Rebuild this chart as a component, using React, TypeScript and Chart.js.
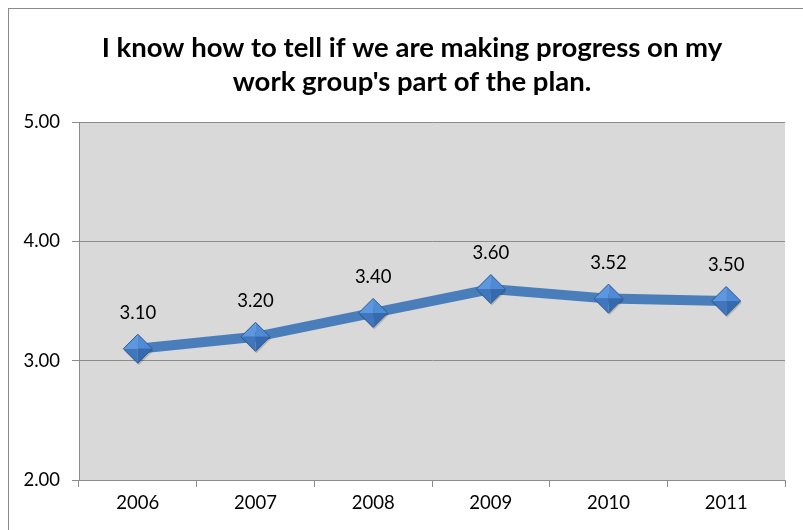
import React, { useEffect, useRef } from "react";
import { Chart, registerables } from "chart.js";

Chart.register(...registerables);

const categories = ["2006", "2007", "2008", "2009", "2010", "2011"];
const values = [3.1, 3.2, 3.4, 3.6, 3.52, 3.5];
const yTicks = [2, 3, 4, 5];
const titleLines = [
  "I know how to tell if we are making progress on my",
  "work group's part of the plan.",
];

const FONT = "Lato, 'Open Sans', sans-serif";

export default function App() {
  const ref = useRef<HTMLCanvasElement | null>(null);

  useEffect(() => {
    document.body.style.margin = "0";
    const canvas = ref.current;
    if (!canvas) return;

    const bgPlugin = {
      id: "bg",
      beforeDraw(chart: any) {
        const { ctx, chartArea } = chart;
        ctx.save();
        ctx.fillStyle = "#ffffff";
        ctx.fillRect(0, 0, chart.width, chart.height);
        ctx.fillStyle = "#d9d9d9";
        ctx.fillRect(chartArea.left, chartArea.top, chartArea.right - chartArea.left, chartArea.bottom - chartArea.top);
        // outer chart border
        ctx.strokeStyle = "#8a8a8a";
        ctx.lineWidth = 1;
        ctx.strokeRect(8.5, 8.5, chart.width + 20, chart.height + 20);
        // title
        ctx.fillStyle = "#000000";
        ctx.font = `bold 27.5px ${FONT}`;
        ctx.textAlign = "center";
        ctx.textBaseline = "middle";
        ctx.fillText(titleLines[0], 412, 48);
        ctx.fillText(titleLines[1], 412, 82);
        ctx.restore();
      },
    };

    const markerPlugin = {
      id: "markers",
      afterDatasetsDraw(chart: any) {
        const { ctx } = chart;
        const meta = chart.getDatasetMeta(0);
        const r = 14.5;
        ctx.save();
        meta.data.forEach((pt: any, i: number) => {
          const x = pt.x;
          const y = pt.y;
          // shadow
          ctx.fillStyle = "rgba(0,0,0,0.18)";
          ctx.beginPath();
          ctx.moveTo(x - r + 1, y + 2);
          ctx.lineTo(x + 1, y - r + 2);
          ctx.lineTo(x + r + 1, y + 2);
          ctx.lineTo(x + 1, y + r + 2);
          ctx.closePath();
          ctx.fill();
          const facets: [number, number, number, number, string][] = [
            [x - r, y, x, y - r, "#5b98df"],
            [x, y - r, x + r, y, "#4f8ad6"],
            [x + r, y, x, y + r, "#366aaf"],
            [x, y + r, x - r, y, "#3f76bd"],
          ];
          facets.forEach(([ax, ay, bx, by, col]) => {
            ctx.fillStyle = col;
            ctx.beginPath();
            ctx.moveTo(x, y);
            ctx.lineTo(ax, ay);
            ctx.lineTo(bx, by);
            ctx.closePath();
            ctx.fill();
          });
          ctx.strokeStyle = "#2d5a93";
          ctx.lineWidth = 1;
          ctx.beginPath();
          ctx.moveTo(x - r, y);
          ctx.lineTo(x, y - r);
          ctx.lineTo(x + r, y);
          ctx.lineTo(x, y + r);
          ctx.closePath();
          ctx.stroke();
          // label
          ctx.fillStyle = "#000000";
          ctx.font = `18.5px ${FONT}`;
          ctx.textAlign = "center";
          ctx.textBaseline = "middle";
          ctx.fillText(values[i].toFixed(2), x, y - 36);
        });
        ctx.restore();
      },
    };

    const chart = new Chart(canvas, {
      type: "line",
      data: {
        labels: categories,
        datasets: [
          {
            data: values,
            borderColor: "#4a7ebb",
            borderWidth: 10,
            pointRadius: 0,
            pointHoverRadius: 0,
            tension: 0,
            fill: false,
          },
        ],
      },
      options: {
        responsive: false,
        animation: false,
        layout: { padding: { left: 8, top: 122, right: 18, bottom: 0 } },
        plugins: {
          legend: { display: false },
          title: { display: false },
          tooltip: { enabled: false },
        },
        scales: {
          x: {
            type: "category",
            offset: true,
            afterFit(scale: any) {
              scale.height = 50;
            },
            grid: {
              offset: true,
              drawOnChartArea: false,
              drawTicks: true,
              tickLength: 7,
              color: "#8c8c8c",
            },
            border: { display: true, color: "#8c8c8c" },
            ticks: {
              color: "#000000",
              font: { family: FONT, size: 18.5 },
              padding: 5,
              maxRotation: 0,
            },
          },
          y: {
            min: 2,
            max: 5,
            afterFit(scale: any) {
              scale.width = 71;
            },
            afterBuildTicks(scale: any) {
              scale.ticks = yTicks.map((v) => ({ value: v }));
            },
            grid: {
              color: "#8c8c8c",
              tickLength: 7,
            },
            border: { display: true, color: "#8c8c8c" },
            ticks: {
              color: "#000000",
              font: { family: FONT, size: 18.5 },
              padding: 12,
              callback: (v: any) => Number(v).toFixed(2),
            },
          },
        },
      },
      plugins: [bgPlugin, markerPlugin],
    });

    return () => chart.destroy();
  }, []);

  return (
    <div style={{ position: "absolute", left: 0, top: 0, width: 803, height: 530 }}>
      <canvas ref={ref} width={803} height={530} />
    </div>
  );
}
